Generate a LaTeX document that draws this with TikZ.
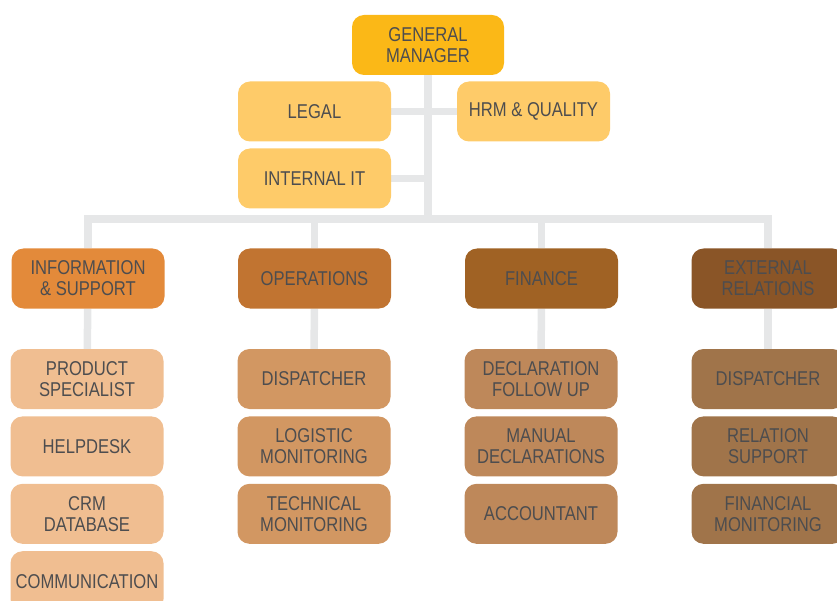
\documentclass[tikz,border=0pt]{standalone}
\usepackage{fontspec}
\setmainfont[FakeStretch=0.83]{Liberation Sans}
\usetikzlibrary{positioning,backgrounds}

\definecolor{txtgray}{HTML}{4D4D4F}
\definecolor{linegray}{HTML}{E6E7E8}
\definecolor{gmcol}{HTML}{FBB817}
\definecolor{staffcol}{HTML}{FECB69}
\definecolor{infocol}{HTML}{E38A3A}
\definecolor{opscol}{HTML}{C17431}
\definecolor{fincol}{HTML}{A06224}
\definecolor{extcol}{HTML}{8A5527}
\definecolor{infosub}{HTML}{F0BE91}
\definecolor{opssub}{HTML}{D29762}
\definecolor{finsub}{HTML}{BE885A}
\definecolor{extsub}{HTML}{A0744A}

\tikzset{
  box/.style={rounded corners=12pt, minimum width=153pt, minimum height=60pt,
    inner sep=0pt, align=center, text=txtgray, font=\fontsize{20}{21}\selectfont},
  link/.style={draw=linegray, line width=7.5pt},
}

\begin{document}
\begin{tikzpicture}[x=1pt,y=-1pt]
\useasboundingbox (0,0) rectangle (837,601);
\clip (0,0) rectangle (837,601);

% top level
\node[box, fill=gmcol, minimum width=152pt] (gm) at (428,45) {GENERAL\\MANAGER};
\node[box, fill=staffcol] (legal) at (314.5,111.5) {LEGAL};
\node[box, fill=staffcol] (hrm) at (533.5,111.5) {HRM \& QUALITY};
\node[box, fill=staffcol] (it) at (314.5,178.5) {INTERNAL IT};

% departments
\node[box, fill=infocol] (info) at (88,278.5) {INFORMATION\\\& SUPPORT};
\node[box, fill=opscol] (ops) at (314.5,278.5) {OPERATIONS};
\node[box, fill=fincol] (fin) at (541.5,278.5) {FINANCE};
\node[box, fill=extcol] (ext) at (768,278.5) {EXTERNAL\\RELATIONS};

% information & support
\node[box, fill=infosub] (info1) at (87,379) {PRODUCT\\SPECIALIST};
\node[box, fill=infosub, below=7pt of info1] (info2) {HELPDESK};
\node[box, fill=infosub, below=7pt of info2] (info3) {CRM\\DATABASE};
\node[box, fill=infosub, below=7pt of info3] (info4) {COMMUNICATION};

% operations
\node[box, fill=opssub] (ops1) at (314,379) {DISPATCHER};
\node[box, fill=opssub, below=7pt of ops1] (ops2) {LOGISTIC\\MONITORING};
\node[box, fill=opssub, below=7pt of ops2] (ops3) {TECHNICAL\\MONITORING};

% finance
\node[box, fill=finsub] (fin1) at (541,379) {DECLARATION\\FOLLOW UP};
\node[box, fill=finsub, below=7pt of fin1] (fin2) {MANUAL\\DECLARATIONS};
\node[box, fill=finsub, below=7pt of fin2] (fin3) {ACCOUNTANT};

% external relations
\node[box, fill=extsub] (ext1) at (768,379) {DISPATCHER};
\node[box, fill=extsub, below=7pt of ext1] (ext2) {RELATION\\SUPPORT};
\node[box, fill=extsub, below=7pt of ext2] (ext3) {FINANCIAL\\MONITORING};

\coordinate (bus) at (428,219);

\begin{scope}[on background layer]
 \draw[link] (gm) -- (bus);
 \draw[link] (legal) -- (legal -| gm);
 \draw[link] (hrm) -- (hrm -| gm);
 \draw[link] (it) -- (it -| gm);
 \draw[link] (info) |- (bus) -| (ext);
 \draw[link] (ops) -- (ops |- bus);
 \draw[link] (fin) -- (fin |- bus);
 \foreach \d in {info,ops,fin,ext}
   \draw[link] (\d) -- (\d1);
\end{scope}

\end{tikzpicture}
\end{document}
